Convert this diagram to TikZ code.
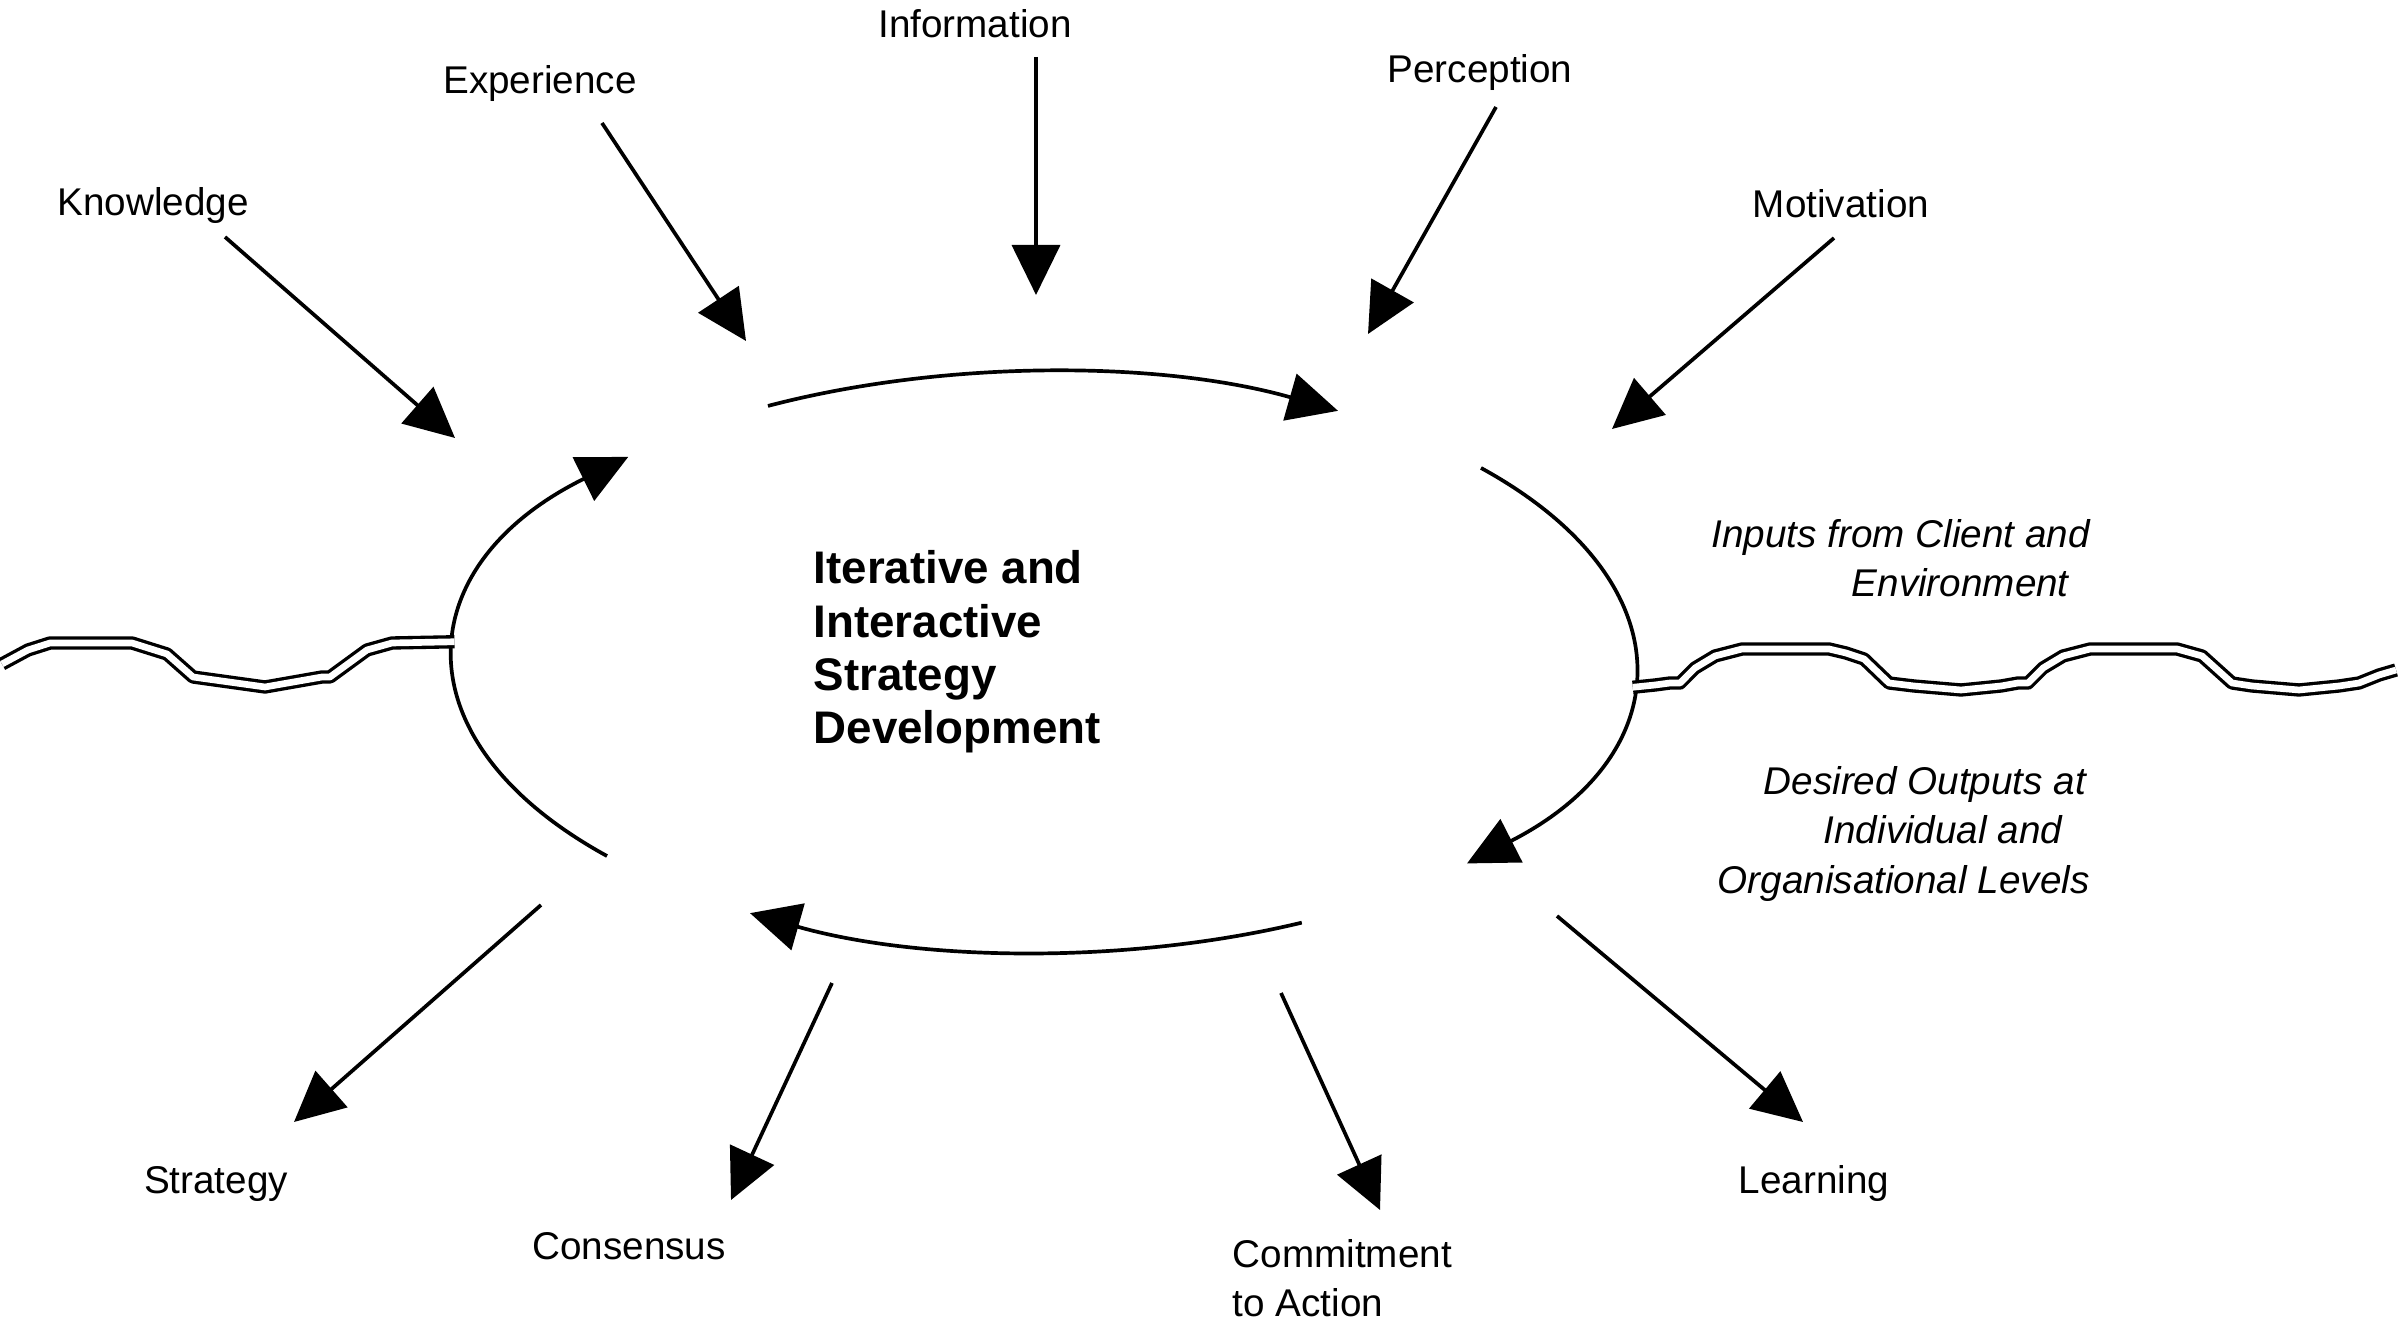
\documentclass[tikz,border=0pt]{standalone}
\usepackage{fontspec}
\setmainfont{Liberation Sans}
\usetikzlibrary{arrows.meta}
\tikzset{
  lbl/.style={font=\fontsize{11}{14}\selectfont, inner sep=0pt},
  remark/.style={font=\fontsize{11}{14}\selectfont\itshape, align=left, anchor=west, inner sep=0pt},
  title/.style={font=\fontsize{13}{15.2}\selectfont\bfseries, align=left, anchor=west, inner sep=0pt},
  flow/.style={line width=1.05pt, -{Triangle[length=5mm,width=4.8mm]}},
  rim/.style={line width=1.05pt},
  seam/.style={double, line width=0.95pt, double distance=1.9pt, line join=round}
}
\begin{document}
\begin{tikzpicture}
  \useasboundingbox (0,0) rectangle (24,13.25);
  \coordinate (hub) at (10.44,6.63);
  \draw
    (1.53,11.19) node[lbl] (knowledge){Knowledge}
    (5.40,12.41) node[lbl] (experience){Experience}
    (9.75,13.01) node[lbl] (information){Information}
    (14.80,12.52) node[lbl] (perception){Perception}
    (18.41,11.21) node[lbl] (motivation){Motivation}
    (2.16,1.41) node[lbl] (strategy){Strategy}
    (6.29,0.79) node[lbl] (consensus){Consensus}
    (12.32,0.47) node[lbl,align=left,anchor=west] (commitment){Commitment\\to Action}
    (18.14,1.42) node[lbl] (learning){Learning}
    (8.13,6.73) node[title] (core){Iterative and\\Interactive\\Strategy\\Development}
    (17.11,7.67) node[remark] (inputs){Inputs from Client and\\\hspace*{1.40cm}Environment}
    (17.17,4.91) node[remark] (outputs){\hspace*{0.46cm}Desired Outputs at\\\hspace*{1.06cm}Individual and\\Organisational Levels};
  \path
    (2.25,10.88) coordinate (k1) (4.55,8.87) coordinate (k2)
    (6.02,12.02) coordinate (e1) (7.46,9.84) coordinate (e2)
    (10.36,12.68) coordinate (i1) (10.36,10.30) coordinate (i2)
    (14.96,12.18) coordinate (p1) (13.68,9.91) coordinate (p2)
    (18.34,10.87) coordinate (m1) (16.12,8.96) coordinate (m2)
    (5.41,4.20) coordinate (s1) (2.94,2.03) coordinate (s2)
    (8.32,3.42) coordinate (c1) (7.31,1.25) coordinate (c2)
    (12.81,3.32) coordinate (a1) (13.80,1.15) coordinate (a2)
    (15.57,4.09) coordinate (l1) (18.03,2.03) coordinate (l2)
    ([shift={(176:5.91 and 2.9)}]hub) coordinate (west)
    ([shift={(-5:5.91 and 2.9)}]hub) coordinate (east);
  \begin{scope}[flow]
    \draw (k1) to (k2);
    \draw (e1) to (e2);
    \draw (i1) to (i2);
    \draw (p1) to (p2);
    \draw (m1) to (m2);
    \draw (s1) to (s2);
    \draw (c1) to (c2);
    \draw (a1) to (a2);
    \draw (l1) to (l2);
  \end{scope}
  \begin{scope}[rim]
    \draw[flow] ([shift={(118:5.88 and 2.9)}]hub) arc[start angle=118, end angle=60, x radius=5.88, y radius=2.9];
    \draw[flow] ([shift={(42:5.88 and 2.9)}]hub) arc[start angle=42, end angle=-44, x radius=5.88, y radius=2.9];
    \draw[flow] ([shift={(-64:5.88 and 2.9)}]hub) arc[start angle=-64, end angle=-120, x radius=5.88, y radius=2.9];
    \draw[flow] ([shift={(222:5.88 and 2.9)}]hub) arc[start angle=222, end angle=135, x radius=5.88, y radius=2.9];
  \end{scope}
  \draw[seam] (0.02,6.61) -- (0.28,6.75) -- (0.50,6.82) -- (1.32,6.82) -- (1.67,6.71)
    -- (1.93,6.48) -- (2.65,6.38) -- (3.22,6.48) -- (3.30,6.48) -- (3.67,6.75)
    -- (3.92,6.82) -- (west);
  \draw[seam] (east) -- (16.55,6.40) -- (16.70,6.42) -- (16.80,6.42) -- (16.95,6.57)
    -- (17.15,6.69) -- (17.42,6.76) -- (18.29,6.76) -- (18.46,6.72) -- (18.64,6.66)
    -- (18.89,6.42) -- (19.14,6.39) -- (19.61,6.35) -- (20.01,6.39) -- (20.18,6.42)
    -- (20.28,6.42) -- (20.43,6.57) -- (20.63,6.69) -- (20.90,6.76) -- (21.77,6.76)
    -- (22.02,6.69) -- (22.32,6.42) -- (22.52,6.39) -- (22.99,6.35) -- (23.39,6.39)
    -- (23.59,6.42) -- (23.79,6.50) -- (23.96,6.55);
\end{tikzpicture}
\end{document}
